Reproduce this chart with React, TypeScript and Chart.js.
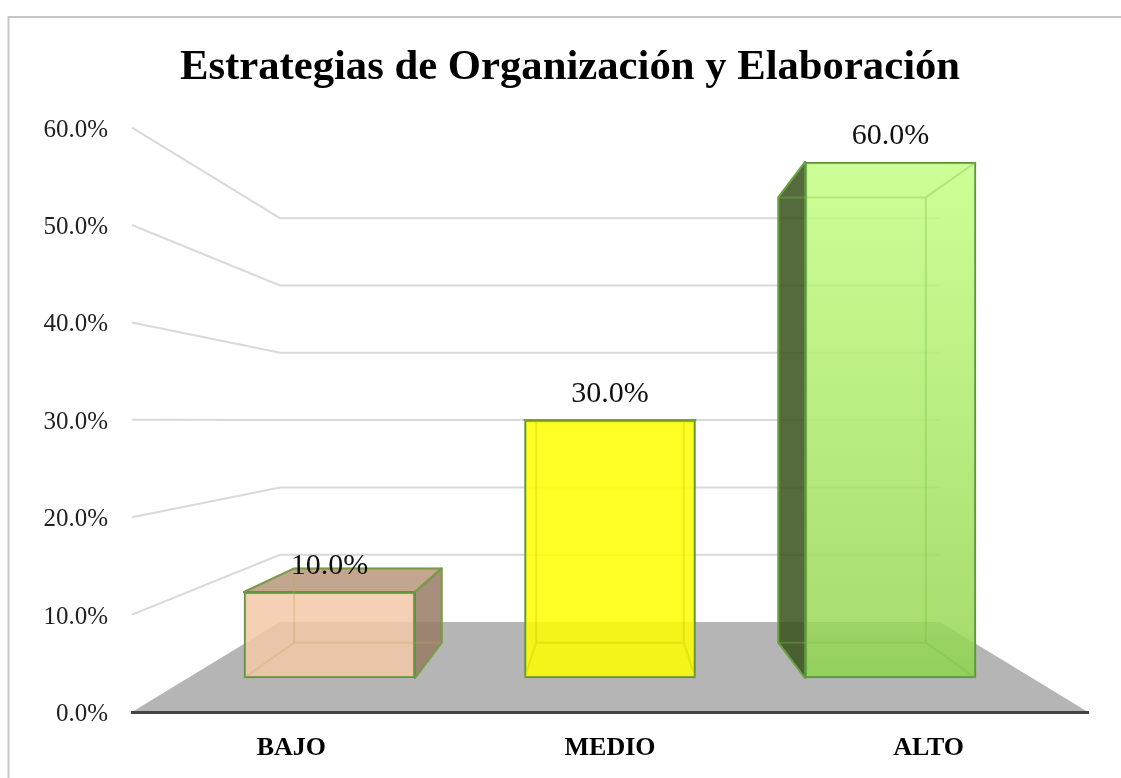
import React, { useEffect, useRef } from "react";
import { Chart, registerables } from "chart.js";

Chart.register(...registerables);

const categories = ["BAJO", "MEDIO", "ALTO"];
const barPositions = [0, 1, 2];
const percentages = [10, 30, 60];
const sideFaceColors = ["rgba(153,123,102,0.85)", "rgba(200,200,0,0.85)", "rgba(56,81,27,0.85)"];
const topFaceColors = ["rgba(186,150,123,0.85)", "rgba(230,230,0,0.85)", "rgba(170,220,110,0.85)"];
const innerEdgeColors = ["rgba(190,170,90,0.3)", "rgba(190,190,0,0.3)", "rgba(120,190,60,0.35)"];

const FONT = "'Liberation Serif', 'Times New Roman', serif";
const EDGE = "#5f9440";
const K = 0.863; // perspective depth of the bars
const VP = { x: 610, y: 420 };
const back = (x: number, y: number) => ({ x: VP.x + (x - VP.x) * K, y: VP.y + (y - VP.y) * K });

function poly(ctx: CanvasRenderingContext2D, pts: { x: number; y: number }[]) {
  ctx.beginPath();
  pts.forEach((p, i) => (i ? ctx.lineTo(p.x, p.y) : ctx.moveTo(p.x, p.y)));
  ctx.closePath();
}

const stage3d = {
  id: "stage3d",
  afterLayout(chart: any) {
    // the title sits slightly right of the canvas centre
    if (chart.titleBlock) {
      chart.titleBlock.left += 9.5;
      chart.titleBlock.right += 9.5;
    }
  },
  beforeDraw(chart: any) {
    const { ctx, chartArea: a, scales } = chart;
    const y = scales.y;
    const items = y.getLabelItems();
    if (!items._nudged) {
      items.forEach((it: any) => {
        it.options.translation[1] += 2.5;
      });
      items._nudged = true;
    }
    const bx0 = a.left + 148;
    const bx1 = a.right - 148;
    const zero = y.getPixelForValue(0);
    const backZero = zero - 90;
    const ratio = 0.691;
    ctx.save();
    // frame
    ctx.strokeStyle = "#c6c6c6";
    ctx.lineWidth = 2;
    ctx.beginPath();
    ctx.moveTo(8.5, chart.height);
    ctx.lineTo(8.5, 17);
    ctx.lineTo(chart.width, 17);
    ctx.stroke();
    // floor
    ctx.fillStyle = "#b5b5b5";
    poly(ctx, [
      { x: a.left, y: zero },
      { x: a.right, y: zero },
      { x: bx1, y: backZero },
      { x: bx0, y: backZero },
    ]);
    ctx.fill();
    // bent gridlines
    ctx.strokeStyle = "#d9d9d9";
    ctx.lineWidth = 2;
    y.ticks.forEach((t: any) => {
      if (t.value === 0) return;
      const py = y.getPixelForValue(t.value);
      const by = backZero - (zero - py) * ratio;
      ctx.beginPath();
      ctx.moveTo(a.left, py);
      ctx.lineTo(bx0, by);
      ctx.lineTo(bx1, by);
      ctx.stroke();
    });
    ctx.restore();
  },
  beforeDatasetsDraw(chart: any) {
    const { ctx } = chart;
    ctx.save();
    ctx.lineWidth = 2;
    ctx.strokeStyle = EDGE;
    ctx.lineJoin = "round";
    chart.getDatasetMeta(0).data.forEach((bar: any, i: number) => {
      const l = bar.x - bar.width / 2;
      const r = bar.x + bar.width / 2;
      const t = bar.y;
      const b = bar.base;
      const tl = back(l, t);
      const tr = back(r, t);
      const bl = back(l, b);
      const br = back(r, b);
      const face = (pts: any[], fill: string) => {
        poly(ctx, pts);
        ctx.fillStyle = fill;
        ctx.fill();
        ctx.stroke();
      };
      if (tl.y < t) face([{ x: l, y: t }, { x: r, y: t }, tr, tl], topFaceColors[i]);
      if (tl.x < l) face([{ x: l, y: t }, tl, bl, { x: l, y: b }], sideFaceColors[i]);
      if (tr.x > r) face([{ x: r, y: t }, tr, br, { x: r, y: b }], sideFaceColors[i]);
    });
    ctx.restore();
  },
  afterDatasetsDraw(chart: any) {
    const { ctx } = chart;
    const meta = chart.getDatasetMeta(0);
    ctx.save();
    ctx.lineWidth = 2;
    meta.data.forEach((bar: any, i: number) => {
      const l = bar.x - bar.width / 2;
      const r = bar.x + bar.width / 2;
      const t = bar.y;
      const b = bar.base;
      const tl = back(l, t);
      const tr = back(r, t);
      const bl = back(l, b);
      const br = back(r, b);
      ctx.strokeStyle = innerEdgeColors[i];
      ctx.beginPath();
      ctx.moveTo(tl.x, tl.y);
      ctx.lineTo(bl.x, bl.y);
      ctx.lineTo(br.x, br.y);
      ctx.lineTo(tr.x, tr.y);
      ctx.lineTo(tl.x, tl.y);
      ctx.moveTo(l, b);
      ctx.lineTo(bl.x, bl.y);
      ctx.moveTo(r, b);
      ctx.lineTo(br.x, br.y);
      ctx.moveTo(l, t);
      ctx.lineTo(tl.x, tl.y);
      ctx.moveTo(r, t);
      ctx.lineTo(tr.x, tr.y);
      ctx.stroke();
    });
    ctx.fillStyle = "#111";
    ctx.font = `30px ${FONT}`;
    ctx.textAlign = "center";
    ctx.textBaseline = "middle";
    meta.data.forEach((bar: any, i: number) => {
      ctx.fillText(`${percentages[i].toFixed(1)}%`, bar.x, bar.y - 26);
    });
    ctx.restore();
  },
};

export default function App() {
  const ref = useRef<HTMLCanvasElement>(null);
  useEffect(() => {
    const chart = new Chart(ref.current as HTMLCanvasElement, {
      type: "bar",
      data: {
        datasets: [
          {
            label: "Estrategias de Organización y Elaboración",
            xAxisID: "xBars",
            yAxisID: "yBars",
            data: barPositions.map((x, i) => ({ x, y: percentages[i] })),
            barThickness: 171,
            borderWidth: 2,
            borderSkipped: false,
            borderColor: EDGE,
            backgroundColor: (c: any) => {
              if (c.dataIndex === 0) return "rgba(243,200,168,0.85)";
              if (c.dataIndex === 1) return "rgba(255,255,0,0.85)";
              const s = c.chart.scales.yBars;
              if (!s) return "rgba(170,230,100,0.85)";
              const g = c.chart.ctx.createLinearGradient(0, s.getPixelForValue(60), 0, s.getPixelForValue(0));
              g.addColorStop(0, "rgba(195,255,132,0.85)");
              g.addColorStop(0.9, "rgba(153,217,87,0.85)");
              g.addColorStop(1, "rgba(140,212,76,0.85)");
              return g;
            },
          },
        ],
      } as any,
      plugins: [stage3d],
      options: {
        responsive: false,
        animation: false,
        events: [],
        layout: { padding: { left: 33, right: 33, top: 0, bottom: 0 } },
        plugins: {
          legend: { display: false },
          tooltip: { enabled: false },
          title: {
            display: true,
            text: "Estrategias de Organización y Elaboración",
            color: "#000",
            font: { family: FONT, size: 42.7, weight: "bold" },
            padding: { top: 42.4, bottom: 34 },
          },
        },
        scales: {
          x: {
            type: "category",
            labels: categories,
            offset: true,
            position: "bottom",
            grid: { display: false, drawTicks: false },
            border: { display: true, color: "#444444", width: 3 },
            ticks: {
              color: "#000",
              padding: 21,
              maxRotation: 0,
              font: { family: FONT, size: 26, weight: "bold" },
            },
            afterFit: (s: any) => {
              s.height = 66;
            },
          },
          xBars: { type: "linear", display: false, offset: false, min: -0.704, max: 2.704 },
          y: {
            type: "linear",
            position: "left",
            min: 0,
            max: 60,
            grid: { display: false, drawTicks: false },
            border: { display: false },
            ticks: {
              stepSize: 10,
              color: "#222",
              padding: 24,
              font: { family: FONT, size: 25 },
              callback: (v: any) => `${Number(v).toFixed(1)}%`,
            },
            afterFit: (s: any) => {
              s.width = 99;
            },
          },
          yBars: { type: "linear", display: false, position: "left", min: -3.953, max: 64 },
        },
      } as any,
    });
    return () => chart.destroy();
  }, []);
  return (
    <div style={{ position: "absolute", left: 0, top: 0, width: 1121, height: 778 }}>
      <canvas ref={ref} width={1121} height={778} style={{ display: "block" }} />
    </div>
  );
}
